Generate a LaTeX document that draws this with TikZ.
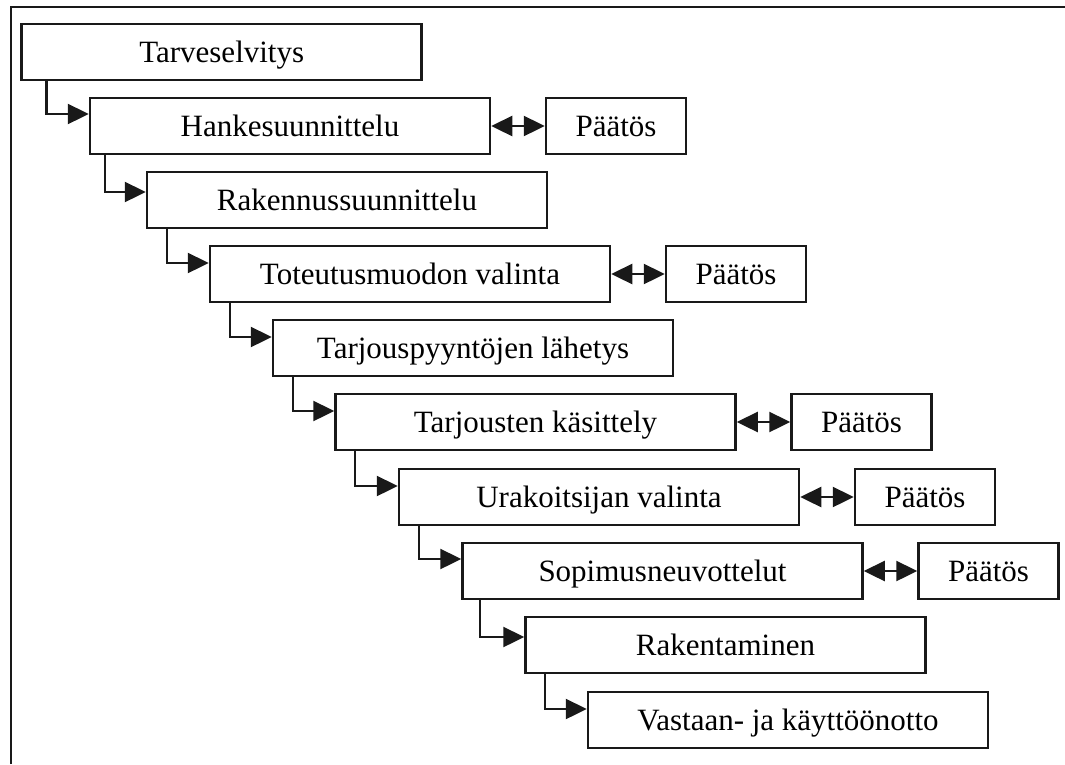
\documentclass[tikz,border=0pt]{standalone}
\usepackage{fontspec}
\setmainfont{Liberation Serif}
\usetikzlibrary{arrows.meta}

\begin{document}
\begin{tikzpicture}[x=1pt,y=-1pt,
  stage/.style={draw=black!90, line width=2.5pt, minimum width=400pt, minimum height=56pt,
    inner sep=0pt, font=\fontsize{31}{36}\selectfont, text height=20.5pt, text depth=0pt},
  decision/.style={stage, minimum width=140pt},
  flow/.style={draw=black!90, line width=2.4pt, -{Triangle[length=21pt,width=20pt]}},
  both/.style={draw=black!90, line width=2.4pt, {Triangle[length=21pt,width=20pt]}-{Triangle[length=21pt,width=20pt]}},
  frame/.style={draw=black!90, line width=2.4pt}]

\useasboundingbox (0,0) rectangle (1065,764);

% outer frame (open at the right and bottom)
\draw[frame] (10.7,764) -- (10.7,7) -- (1065,7);

% process stages
\node[stage] (s1)  at (221.7,52)  {Tarveselvitys};
\node[stage] (s2)  at (290,126)   {Hankesuunnittelu};
\node[stage] (s3)  at (347,200)   {Rakennussuunnittelu};
\node[stage] (s4)  at (410,274)   {Toteutusmuodon valinta};
\node[stage] (s5)  at (473,348)   {Tarjouspyyntöjen lähetys};
\node[stage] (s6)  at (535.5,422) {Tarjousten käsittely};
\node[stage] (s7)  at (599,497)   {Urakoitsijan valinta};
\node[stage] (s8)  at (662.5,571) {Sopimusneuvottelut};
\node[stage] (s9)  at (725.5,645) {Rakentaminen};
\node[stage] (s10) at (788,720)   {Vastaan- ja käyttöönotto};

% decisions
\node[decision] (d2) at (616,126)   {Päätös};
\node[decision] (d4) at (736,274)   {Päätös};
\node[decision] (d6) at (861.5,422) {Päätös};
\node[decision] (d7) at (925,497)   {Päätös};
\node[decision] (d8) at (988.5,571) {Päätös};

% stage-to-stage connectors
\draw[flow] ([xshift=26pt]s1.south west) |- ([yshift=12pt]s2.west);
\draw[flow] ([xshift=16pt]s2.south west) |- ([yshift=8pt]s3.west);
\draw[flow] ([xshift=21pt]s3.south west) |- ([yshift=11pt]s4.west);
\draw[flow] ([xshift=21pt]s4.south west) |- ([yshift=11pt]s5.west);
\draw[flow] ([xshift=21pt]s5.south west) |- ([yshift=11pt]s6.west);
\draw[flow] ([xshift=21pt]s6.south west) |- ([yshift=11pt]s7.west);
\draw[flow] ([xshift=21pt]s7.south west) |- ([yshift=12pt]s8.west);
\draw[flow] ([xshift=19pt]s8.south west) |- ([yshift=8pt]s9.west);
\draw[flow] ([xshift=21pt]s9.south west) |- ([yshift=11pt]s10.west);

% stage <-> decision links
\draw[both] (s2.east) -- (d2.west);
\draw[both] (s4.east) -- (d4.west);
\draw[both] (s6.east) -- (d6.west);
\draw[both] (s7.east) -- (d7.west);
\draw[both] (s8.east) -- (d8.west);
\end{tikzpicture}
\end{document}
